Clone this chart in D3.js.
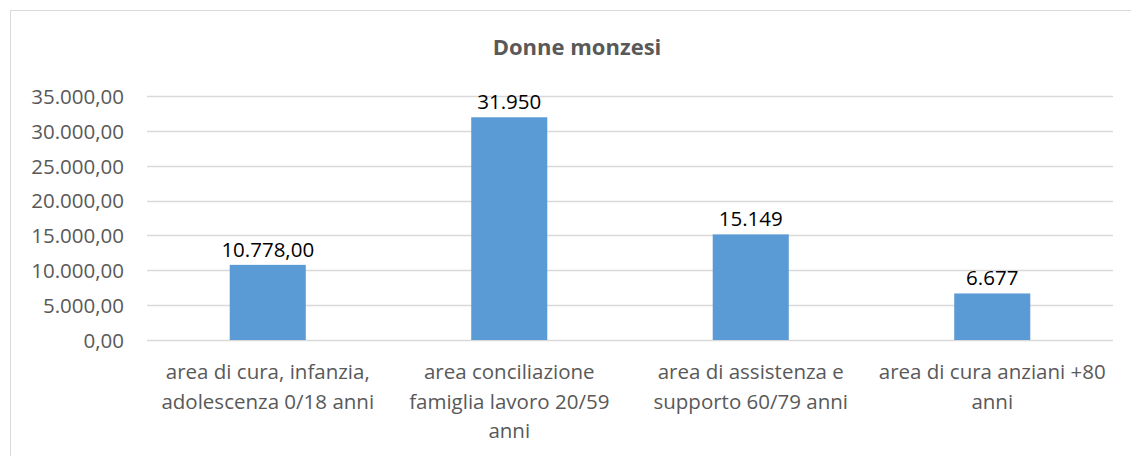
<!DOCTYPE html>
<html>
<head>
<meta charset="utf-8">
<script src="https://cdn.jsdelivr.net/npm/d3@7.9.0/dist/d3.min.js"></script>
<style>
  html, body { margin: 0; padding: 0; background: #fff; }
  svg { display: block; font-family: "Open Sans", sans-serif; }
</style>
</head>
<body>
<svg id="chart"></svg>
<script>
// Data
const categories = [
    ["area di cura, infanzia,", "adolescenza 0/18 anni"],
    ["area conciliazione", "famiglia lavoro 20/59", "anni"],
    ["area di assistenza e", "supporto 60/79 anni"],
    ["area di cura anziani +80", "anni"]
];
const values = [10778, 31950, 15149, 6677];
const valueLabels = ["10.778,00", "31.950", "15.149", "6.677"];
const yTicks = [0, 5000, 10000, 15000, 20000, 25000, 30000, 35000];
const title = "Donne monzesi";

// Dimensions
const W = 1131, H = 456;
const margin = { top: 96, right: 18, bottom: 116, left: 147 };
const width = W - margin.left - margin.right,
      height = H - margin.top - margin.bottom;

const svgContainer = d3.select("#chart")
    .attr("width", W)
    .attr("height", H);

// Chart border (extends past the right and bottom edges)
svgContainer.append("rect")
    .attr("x", 10.5)
    .attr("y", 10.5)
    .attr("width", W + 20)
    .attr("height", H + 20)
    .attr("fill", "none")
    .attr("stroke", "#d9d9d9")
    .attr("stroke-width", 1);

// Title
svgContainer.append("text")
    .attr("x", 577)
    .attr("y", 55)
    .attr("text-anchor", "middle")
    .style("font-size", "22px")
    .style("font-weight", "bold")
    .style("fill", "#595959")
    .text(title);

const svg = svgContainer.append("g")
    .attr("transform", `translate(${margin.left},${margin.top})`);

// Scales
const xScale = d3.scaleBand()
    .domain(d3.range(categories.length))
    .range([0, width])
    .paddingInner(0.685)
    .paddingOuter(0.3425);

const yScale = d3.scaleLinear()
    .domain([0, 35000])
    .range([height, 0]);

const fmt = d => d3.formatLocale({ decimal: ",", thousands: ".", grouping: [3], currency: ["", "€"] })
    .format(",.2f")(d);

// Gridlines
svg.append("g")
    .selectAll("line")
    .data(yTicks)
    .enter()
    .append("line")
    .attr("x1", 0)
    .attr("x2", width)
    .attr("y1", d => Math.round(yScale(d)) + 0.5)
    .attr("y2", d => Math.round(yScale(d)) + 0.5)
    .attr("stroke", "#d9d9d9")
    .attr("stroke-width", 1.3);

// Y-axis
const yAxis = svg.append("g")
    .call(d3.axisLeft(yScale).tickValues(yTicks).tickFormat(fmt).tickSize(0).tickPadding(23));
yAxis.select(".domain").remove();
yAxis.selectAll("text")
    .style("font-size", "20.5px")
    .style("font-family", "Open Sans, sans-serif")
    .attr("fill", "#595959")
    .attr("dy", "0.36em");

// Bars
svg.selectAll("rect.bar")
    .data(values)
    .enter()
    .append("rect")
    .attr("class", "bar")
    .attr("x", (d, i) => xScale(i))
    .attr("y", d => yScale(d))
    .attr("width", xScale.bandwidth())
    .attr("height", d => height - yScale(d))
    .attr("fill", "#5b9bd5");

// Value labels
svg.selectAll("text.value")
    .data(values)
    .enter()
    .append("text")
    .attr("class", "value")
    .attr("x", (d, i) => xScale(i) + xScale.bandwidth() / 2)
    .attr("y", d => yScale(d) - 8)
    .attr("text-anchor", "middle")
    .style("font-size", "20.5px")
    .style("fill", "#000")
    .text((d, i) => valueLabels[i]);

// Category labels
const catGroups = svg.selectAll("text.cat")
    .data(categories)
    .enter()
    .append("text")
    .attr("class", "cat")
    .attr("text-anchor", "middle")
    .style("font-size", "20.5px")
    .style("fill", "#595959")
    .attr("transform", (d, i) => `translate(${xScale(i) + xScale.bandwidth() / 2},${height + 39})`);

catGroups.selectAll("tspan")
    .data(d => d)
    .enter()
    .append("tspan")
    .attr("x", 0)
    .attr("y", (d, i) => i * 29.5)
    .text(d => d);
</script>
</body>
</html>
